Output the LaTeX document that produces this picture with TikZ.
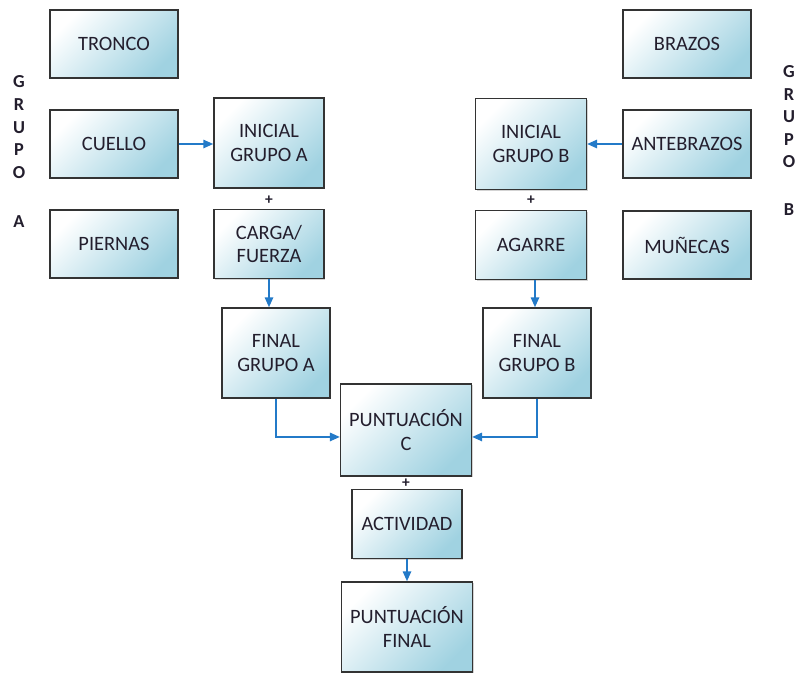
\documentclass[tikz,border=0pt]{standalone}
\usepackage{fontspec}
\setmainfont{Carlito}
\usetikzlibrary{arrows.meta,shadows}

\definecolor{cajaazul}{RGB}{160,210,225}
\definecolor{flechaazul}{RGB}{35,122,200}
\definecolor{textoosc}{RGB}{35,30,45}

\tikzset{
  caja/.style={draw=black!80, line width=1.1pt, align=center, inner sep=2pt,
    text=textoosc, font=\fontsize{14.5}{17}\selectfont,
    drop shadow={shadow xshift=1pt, shadow yshift=-1pt, opacity=0.35},
    top color=white, middle color=white, bottom color=cajaazul,
    shading angle=45},
  flecha/.style={draw=flechaazul, line width=1pt,
    -{Triangle[length=7pt,width=6pt]}},
  letra/.style={font=\fontsize{13}{14}\selectfont\bfseries, text=textoosc},
  mas/.style={font=\fontsize{11}{12}\selectfont\bfseries, text=textoosc, inner sep=0pt}
}

\begin{document}
\begin{tikzpicture}[x=0.025cm, y=-0.025cm]
  \useasboundingbox (0,0) rectangle (798,673);

  % ========== Grupo A ==========
  \node[caja, minimum width=3.2cm, minimum height=1.7cm] (tronco) at (114,44) {TRONCO};
  \node[caja, minimum width=3.2cm, minimum height=1.7cm] (cuello) at (114,144) {CUELLO};
  \node[caja, minimum width=3.2cm, minimum height=1.7cm] (piernas) at (114,244) {PIERNAS};
  \node[caja, minimum width=2.75cm, minimum height=2.25cm] (inicialA) at (269,143) {INICIAL\\GRUPO A};
  \node[caja, minimum width=2.75cm, minimum height=1.72cm] (carga) at (269,244) {CARGA/\\FUERZA};
  \node[caja, minimum width=2.7cm, minimum height=2.25cm] (finalA) at (276,353) {FINAL\\GRUPO A};
  \node[mas] (masA) at (269,200) {+};

  % ========== Grupo B ==========
  \node[caja, minimum width=3.2cm, minimum height=1.7cm] (brazos) at (687,44) {BRAZOS};
  \node[caja, minimum width=3.2cm, minimum height=1.7cm] (antebrazos) at (687,144) {ANTEBRAZOS};
  \node[caja, minimum width=3.2cm, minimum height=1.7cm] (munecas) at (687,245) {MUÑECAS};
  \node[caja, minimum width=2.77cm, minimum height=2.27cm] (inicialB) at (531,144) {INICIAL\\GRUPO B};
  \node[caja, minimum width=2.77cm, minimum height=1.72cm] (agarre) at (531,245) {AGARRE};
  \node[caja, minimum width=2.7cm, minimum height=2.25cm] (finalB) at (537,353) {FINAL\\GRUPO B};
  \node[mas] (masB) at (531,200) {+};

  % ========== Puntuacion ==========
  \node[caja, minimum width=3.27cm, minimum height=2.3cm] (puntC) at (406,430) {PUNTUACIÓN\\C};
  \node[caja, minimum width=2.75cm, minimum height=1.72cm] (actividad) at (407,524) {ACTIVIDAD};
  \node[caja, minimum width=3.27cm, minimum height=2.25cm] (puntFinal) at (407,627) {PUNTUACIÓN\\FINAL};
  \node[mas] (masC) at (406,483) {+};

  % flechas
  \draw[flecha] (cuello.east) -- (cuello.east -| inicialA.west);
  \draw[flecha] (antebrazos.west) -- (antebrazos.west -| inicialB.east);
  \draw[flecha] (carga.south) -- (carga.south |- finalA.north);
  \draw[flecha] ([xshift=0.1cm]agarre.south) -- ([xshift=0.1cm]agarre.south |- finalB.north);
  \draw[flecha] (finalA.south) |- (puntC.186);
  \draw[flecha] (finalB.south) |- (puntC.354);
  \draw[flecha] (actividad.south) -- (puntFinal.north);

  % letras laterales
  \foreach \l/\y [count=\i] in {G/82,R/105,U/128,P/150,O/173,A/222}
    \node[letra] (izq\i) at (19,\y) {\l};
  \foreach \l/\y [count=\i] in {G/72,R/95,U/117,P/140,O/162,B/210}
    \node[letra] (der\i) at (789,\y) {\l};

\end{tikzpicture}
\end{document}
